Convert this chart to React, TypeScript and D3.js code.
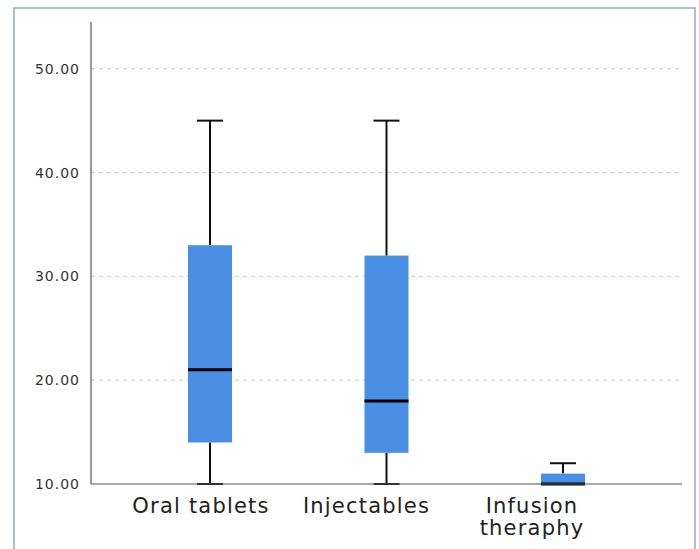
import React from "react";
import * as d3 from "d3";

const categories = ["Oral tablets", "Injectables", "Infusion theraphy"];
const labelLines = [["Oral tablets"], ["Injectables"], ["Infusion", "theraphy"]];
const mins = [10, 10, 10];
const q1s = [14, 13, 10];
const medians = [21, 18, 10];
const q3s = [33, 32, 11];
const maxs = [45, 45, 12];
const yTicks = [10, 20, 30, 40, 50];

export default function App() {
  const W = 699, H = 549;
  const left = 91, right = 682, top = 22, bottom = 484;
  const y = d3.scaleLinear().domain([10, 54.5]).range([bottom, top]);
  const x = d3.scalePoint<string>().domain(categories).range([210, 563]);
  const xl = d3.scalePoint<string>().domain(categories).range([201, 532]);
  const boxW = 44, capW = 26;
  const font = "'DejaVu Sans', sans-serif";
  return (
    <svg width={W} height={H} style={{ position: "absolute", left: 0, top: 0, background: "#fff" }}>
      <rect x={14} y={8} width={681} height={H} fill="#fff" stroke="#86acd9" strokeWidth={1.5} />
      {yTicks.slice(1).map((t) => (
        <line key={t} x1={left} x2={right} y1={y(t)} y2={y(t)} stroke="#c4c4c4" strokeDasharray="4,4" strokeWidth={1} />
      ))}
      {yTicks.map((t) => (
        <text key={"l" + t} x={80} y={y(t)} dy="0.36em" textAnchor="end" fontFamily={font} fontSize={14} letterSpacing={1} fill="#333">
          {t.toFixed(2)}
        </text>
      ))}
      {categories.map((c, i) => {
        const cx = x(c)!;
        return (
          <g key={c}>
            <line x1={cx} x2={cx} y1={y(maxs[i])} y2={y(q3s[i])} stroke="#111" strokeWidth={2} />
            <line x1={cx} x2={cx} y1={y(q1s[i])} y2={y(mins[i])} stroke="#111" strokeWidth={2} />
            <line x1={cx - capW / 2} x2={cx + capW / 2} y1={y(maxs[i])} y2={y(maxs[i])} stroke="#111" strokeWidth={2} />
            <line x1={cx - capW / 2} x2={cx + capW / 2} y1={y(mins[i])} y2={y(mins[i])} stroke="#111" strokeWidth={2} />
            <rect x={cx - boxW / 2} y={y(q3s[i])} width={boxW} height={y(q1s[i]) - y(q3s[i])} fill="#4a8fe3" />
            <line x1={cx - boxW / 2} x2={cx + boxW / 2} y1={y(medians[i])} y2={y(medians[i])} stroke="#000" strokeWidth={3} />
          </g>
        );
      })}
      <line x1={left} x2={left} y1={top} y2={bottom} stroke="#555" strokeWidth={1.2} />
      <line x1={left} x2={right} y1={bottom} y2={bottom} stroke="#555" strokeWidth={1.2} />
      {categories.map((c, i) => (
        <text key={"c" + c} x={xl(c)} y={513} textAnchor="middle" fontFamily={font} fontSize={21} letterSpacing={1.2} fill="#222">
          {labelLines[i].map((ln, j) => (
            <tspan key={j} x={xl(c)} dy={j === 0 ? 0 : 22}>{ln}</tspan>
          ))}
        </text>
      ))}
    </svg>
  );
}
